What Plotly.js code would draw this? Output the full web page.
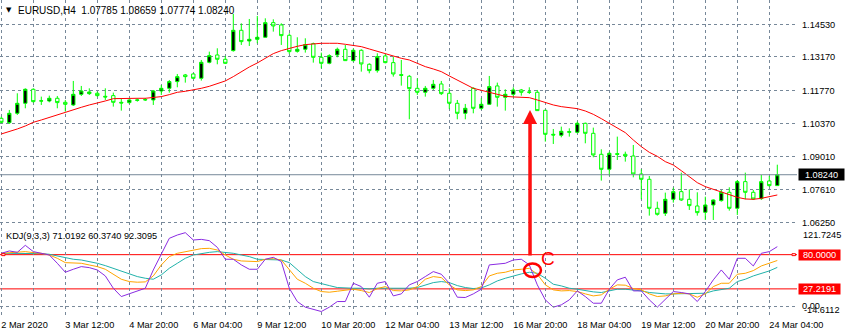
<!DOCTYPE html>
<html><head><meta charset="utf-8">
<script src="https://cdn.plot.ly/plotly-3.0.1.min.js"></script>
<style>html,body{margin:0;padding:0;background:#fff;}#chart{width:845px;height:332px;}</style>
</head><body><div id="chart"></div>
<script>
// EURUSD H4 candles (bar 0 = 2 Mar 2020 04:00)
const open = [
1.10599,1.10418,1.10808,1.11227,1.11812,1.11320,1.11324,1.11436,1.11268,1.11157,
1.11603,1.11631,1.11645,1.11519,1.11547,1.11268,1.11255,1.11352,1.11366,1.11366,
1.11742,1.11854,1.12133,1.12412,1.12453,1.12272,1.12941,1.13248,1.13067,1.13429,
1.14279,1.13833,1.13903,1.13987,1.14600,1.14502,1.14070,1.13401,1.13485,1.13722,
1.13150,1.12899,1.13248,1.13485,1.13011,1.13443,1.12858,1.12593,1.13206,1.12927,
1.12425,1.12356,1.11854,1.11687,1.11854,1.12035,1.11645,1.11227,1.10808,1.11854,
1.11018,1.11185,1.11952,1.11478,1.11603,1.11784,1.11701,1.11687,1.10934,1.09930,
1.09888,1.10014,1.10014,1.10390,1.09972,1.09094,1.08467,1.09122,1.09094,1.09024,
1.08271,1.08048,1.06836,1.06626,1.07212,1.07533,1.07212,1.06933,1.06668,1.06975,
1.07156,1.07505,1.06836,1.07951,1.07505,1.07240,1.07979,1.07785];
const high = [
1.10669,1.10948,1.11645,1.11854,1.11854,1.11505,1.11547,1.11533,1.11366,1.12161,
1.11952,1.11854,1.11715,1.11854,1.11673,1.11408,1.11408,1.11436,1.11450,1.11784,
1.11993,1.12202,1.12453,1.12453,1.12481,1.13039,1.13387,1.13527,1.13206,1.14962,
1.14572,1.14753,1.14879,1.14781,1.14739,1.14572,1.14154,1.13987,1.13945,1.13763,
1.13346,1.13276,1.13555,1.13666,1.13513,1.13485,1.12899,1.13318,1.13276,1.13178,
1.13039,1.12412,1.12272,1.11952,1.12202,1.12161,1.11854,1.11366,1.11199,1.11896,
1.11436,1.12370,1.12091,1.11812,1.11896,1.11826,1.11896,1.11784,1.10948,1.10153,
1.10251,1.10181,1.10460,1.10418,1.10209,1.09303,1.09205,1.09833,1.09205,1.09484,
1.08467,1.08188,1.07114,1.07491,1.07700,1.08327,1.07630,1.07505,1.07323,1.07212,
1.07602,1.07714,1.08020,1.08327,1.07602,1.08230,1.08188,1.08659];
const low = [
1.10390,1.10362,1.10739,1.11018,1.11255,1.11157,1.11268,1.11018,1.10878,1.11115,
1.11533,1.11575,1.11505,1.11366,1.11087,1.10920,1.11199,1.11296,1.11324,1.11157,
1.11575,1.11673,1.11896,1.12091,1.12258,1.12175,1.12899,1.12858,1.12872,1.13387,
1.13666,1.13624,1.13736,1.13973,1.14223,1.13666,1.13290,1.13346,1.13346,1.12927,
1.12690,1.12858,1.13150,1.12997,1.12969,1.12551,1.12481,1.12509,1.12899,1.12342,
1.11965,1.10558,1.11575,1.11505,1.11784,1.11575,1.10990,1.10558,1.10558,1.10808,
1.10948,1.11157,1.11087,1.10920,1.11505,1.11547,1.11617,1.10906,1.09624,1.09526,
1.09805,1.09833,1.09972,1.09554,1.08968,1.07993,1.08202,1.08857,1.08787,1.08132,
1.07212,1.06529,1.06529,1.06515,1.07073,1.07142,1.06766,1.06529,1.06348,1.06348,
1.07114,1.06738,1.06557,1.07212,1.07184,1.07184,1.07742,1.07774];
const close = [
1.10432,1.10808,1.11227,1.11812,1.11296,1.11330,1.11436,1.11255,1.11185,1.11603,
1.11742,1.11701,1.11547,1.11492,1.11268,1.11241,1.11366,1.11366,1.11380,1.11742,
1.11854,1.12133,1.12342,1.12342,1.12272,1.12941,1.13220,1.13067,1.12899,1.14279,
1.13805,1.13903,1.13987,1.14600,1.14461,1.14056,1.13387,1.13485,1.13680,1.13150,
1.12899,1.13220,1.13485,1.13011,1.13443,1.12872,1.12593,1.13178,1.12927,1.12453,
1.12398,1.11840,1.11687,1.11854,1.12021,1.11631,1.11227,1.10808,1.11018,1.11018,
1.11185,1.11924,1.11478,1.11603,1.11784,1.11687,1.11687,1.10920,1.09930,1.09902,
1.10056,1.10042,1.10390,1.09972,1.09066,1.08467,1.09136,1.09094,1.09024,1.08271,
1.08048,1.06836,1.06585,1.07212,1.07533,1.07184,1.06947,1.06654,1.06975,1.07184,
1.07505,1.06836,1.07951,1.07505,1.07226,1.07951,1.07783,1.08240];
// red moving average
const ma = [
1.09944,1.10041,1.10153,1.10278,1.10432,1.10529,1.10641,1.10738,1.10836,1.10947,
1.11059,1.11157,1.11226,1.11324,1.11421,1.11436,1.11436,1.11436,1.11436,1.11463,
1.11506,1.11589,1.11686,1.11728,1.11784,1.11854,1.11937,1.12035,1.12161,1.12342,
1.12551,1.12746,1.12913,1.13108,1.13303,1.13429,1.13527,1.13610,1.13680,1.13722,
1.13736,1.13736,1.13736,1.13694,1.13652,1.13596,1.13498,1.13401,1.13290,1.13206,
1.13108,1.13039,1.12899,1.12760,1.12662,1.12551,1.12370,1.12202,1.12035,1.11854,
1.11770,1.11686,1.11603,1.11519,1.11492,1.11478,1.11463,1.11366,1.11255,1.11157,
1.11087,1.11045,1.11003,1.10906,1.10766,1.10585,1.10390,1.10195,1.10000,1.09693,
1.09414,1.09177,1.09010,1.08787,1.08647,1.08410,1.08159,1.07908,1.07742,1.07630,
1.07518,1.07421,1.07295,1.07226,1.07212,1.07253,1.07323,1.07393];
// KDJ(9,3,3)
const kdjK = [
82.1,83.1,84.2,84.7,83.1,82.1,79.5,74.4,67.7,66.7,
66.7,64.1,61.6,57.5,49.8,42.1,38.5,37.5,38.0,47.2,
64.1,77.0,82.1,84.7,87.2,89.3,89.8,87.2,79.5,72.9,
70.3,69.3,69.3,72.9,73.9,71.8,56.4,42.1,35.9,28.2,
23.1,22.1,23.6,24.6,26.7,24.6,21.6,27.7,30.8,24.6,
24.1,25.7,30.8,42.1,46.2,44.6,33.4,25.7,24.6,25.7,
30.8,47.2,51.3,52.9,56.4,57.5,59.0,49.8,33.4,25.7,
24.1,24.6,23.1,19.5,16.4,18.0,26.7,33.4,32.9,27.7,
25.7,19.5,15.4,16.4,19.5,20.5,19.5,14.4,19.5,30.8,
35.9,35.9,49.8,51.3,55.4,62.6,66.7,71.0192];
const kdjD = [
82.1,82.1,82.1,82.1,82.1,81.6,80.6,78.0,74.4,72.9,
71.8,69.3,66.7,63.1,59.0,53.9,49.8,46.2,43.6,42.1,
48.8,59.0,66.7,74.4,79.5,82.1,83.6,84.7,83.6,82.1,
79.5,77.0,72.9,72.9,72.9,71.8,67.7,56.4,46.2,38.5,
34.9,32.3,29.3,28.2,28.2,28.2,27.2,28.2,28.2,27.7,
27.7,28.2,29.3,33.4,36.9,38.5,36.9,32.3,29.3,27.7,
28.7,33.4,39.5,43.6,47.2,50.3,52.9,51.3,43.6,34.4,
31.8,28.2,26.7,24.6,22.6,21.6,24.6,26.7,26.7,25.7,
24.1,21.6,20.0,19.5,19.5,19.5,19.5,19.5,20.5,24.1,
26.7,28.2,38.5,42.1,47.2,51.3,54.9,60.3740];
const kdjJ = [
82.1,85.7,83.6,94.4,84.7,82.1,79.5,66.7,52.9,57.5,
61.6,60.0,56.4,47.2,28.2,15.4,19.5,23.1,28.2,56.4,
82.1,105.2,110.3,113.9,102.6,103.6,101.6,91.3,72.9,72.9,
64.2,57.5,57.5,72.9,75.9,69.3,28.2,7.7,-1.0,-4.1,
-7.7,-1.0,7.7,7.7,35.9,30.8,14.4,35.9,38.5,16.4,
19.5,33.4,38.5,46.2,53.9,49.8,35.9,14.4,13.9,19.5,
26.7,64.2,65.2,66.7,71.8,72.9,64.2,33.4,10.3,-1.0,
2.6,10.3,24.1,15.4,5.1,5.1,26.7,41.1,45.2,24.1,
24.1,10.3,-1.0,11.3,23.1,21.6,19.5,7.7,23.1,41.1,
56.4,42.1,74.4,74.4,62.6,82.1,84.7,92.3095];
// axes
const timeLabels = ['2 Mar 2020','3 Mar 12:00','4 Mar 20:00','6 Mar 04:00','9 Mar 12:00','10 Mar 20:00',
 '12 Mar 04:00','13 Mar 12:00','16 Mar 20:00','18 Mar 04:00','19 Mar 12:00','20 Mar 20:00','24 Mar 04:00'];
const priceTicks = [1.14530,1.13170,1.11770,1.10370,1.09010,1.07610,1.06250];
const lastPrice = 1.08240;
const kdjLevels = [80, 27.2191];
const kdjMax = 121.7245, kdjMin = -14.6112;

const idx = open.map((_, i) => i);
const gridVals = [], gridText = [];
for (let i = 0; i < timeLabels.length * 2 - 1; i++) {
  gridVals.push(i * 4);
  gridText.push(i % 2 === 0 ? timeLabels[i / 2] : '');
}
const GRID = '#778899';
const FONT = 'Liberation Sans, Arial, sans-serif';
const fs = 9.2;

const traces = [
  {type:'candlestick', x:idx, open:open, high:high, low:low, close:close, xaxis:'x', yaxis:'y',
   increasing:{line:{color:'#00ff00', width:1}, fillcolor:'#000000'},
   decreasing:{line:{color:'#00ff00', width:1}, fillcolor:'#ffffff'},
   whiskerwidth:0, hoverinfo:'skip', showlegend:false},
  {type:'scatter', mode:'lines', x:idx, y:ma, xaxis:'x', yaxis:'y', line:{color:'#ff0000', width:1}, hoverinfo:'skip'},
  {type:'scatter', mode:'lines', x:idx, y:kdjD, xaxis:'x', yaxis:'y2', line:{color:'#20b2aa', width:1}, hoverinfo:'skip'},
  {type:'scatter', mode:'lines', x:idx, y:kdjK, xaxis:'x', yaxis:'y2', line:{color:'#ffa500', width:1}, hoverinfo:'skip'},
  {type:'scatter', mode:'lines', x:idx, y:kdjJ, xaxis:'x', yaxis:'y2', line:{color:'#8a2be2', width:1}, hoverinfo:'skip'}
];

const annotations = [
  {xref:'paper', yref:'paper', x:0.0055, y:1-10/316, xanchor:'left', yanchor:'middle', showarrow:false,
   text:'\u25BC', font:{family:'DejaVu Sans', size:7, color:'#000'}},
  {xref:'paper', yref:'paper', x:16/797, y:1-11/316, xanchor:'left', yanchor:'middle', showarrow:false,
   text:'EURUSD,H4 \u00a01.07785 1.08659 1.07774 1.08240', font:{family:FONT, size:10, color:'#000'}},
  {xref:'paper', yref:'paper', x:4/797, y:1-236/316, xanchor:'left', yanchor:'middle', showarrow:false,
   text:'KDJ(9,3,3) 71.0192 60.3740 92.3095', font:{family:FONT, size:fs, color:'#000'}},
  {xref:'paper', yref:'y', x:1, y:lastPrice, xanchor:'left', yanchor:'middle', xshift:1, showarrow:false,
   text:lastPrice.toFixed(5), bgcolor:'#000', borderpad:0, width:45, height:11, align:'center',
   font:{family:FONT, size:fs, color:'#fff'}},
  {xref:'paper', yref:'paper', x:1, y:1-235/316, xanchor:'left', yanchor:'middle', xshift:4, showarrow:false,
   text:kdjMax.toFixed(4), font:{family:FONT, size:fs, color:'#000'}},
  {xref:'paper', yref:'y2', x:1, y:0, xanchor:'left', yanchor:'middle', xshift:3, yshift:1, showarrow:false,
   text:'0.00', font:{family:FONT, size:fs, color:'#000'}},
  {xref:'paper', yref:'paper', x:1, y:1-310/316, xanchor:'left', yanchor:'middle', xshift:5, showarrow:false,
   text:kdjMin.toFixed(4), font:{family:FONT, size:fs, color:'#000'}},
  {xref:'x', yref:'paper', x:66.09, y:1-110/316, ax:0, ay:147, showarrow:true, text:'',
   arrowcolor:'#ff1010', arrowwidth:3.5, arrowhead:2, arrowsize:0.8},
  {xref:'paper', yref:'paper', x:548/797, y:1-258/316, xanchor:'center', yanchor:'middle', showarrow:false,
   text:'C', font:{family:FONT, size:19, color:'#ff0000'}}
];
kdjLevels.forEach(v => annotations.push({xref:'paper', yref:'y2', x:1, y:v, xanchor:'left', yanchor:'middle',
  xshift:1, showarrow:false, text:v.toFixed(4), bgcolor:'#ff0000', borderpad:0, width:41, height:10, align:'center',
  font:{family:FONT, size:fs, color:'#fff'}}));

const shapes = [
  {type:'line', xref:'paper', yref:'y', x0:0, x1:1, y0:lastPrice, y1:lastPrice, line:{color:GRID, width:1}},
  {type:'line', xref:'paper', yref:'y2', x0:0, x1:1, y0:0, y1:0, line:{color:GRID, width:1, dash:'3px,3px'}},
  {type:'circle', xref:'x', yref:'y2', x0:65.34, x1:67.46, y0:45.6, y1:66.4, line:{color:'#ff0000', width:2.5}},
  {type:'rect', xref:'paper', yref:'y2', x0:1.7/797, x1:5/797, y0:78.5, y1:81.5, line:{color:'#ff0000', width:1}, fillcolor:'#fff'},
  {type:'rect', xref:'paper', yref:'y2', x0:792/797, x1:795.5/797, y0:78.5, y1:81.5, line:{color:'#ff0000', width:1}, fillcolor:'#fff'}
];
kdjLevels.forEach(v => shapes.push({type:'line', xref:'paper', yref:'y2', x0:0, x1:1, y0:v, y1:v,
  line:{color:'#ff0000', width:1}, layer:'below'}));

const layout = {
  width:845, height:332, margin:{l:0, r:48, t:0, b:16},
  paper_bgcolor:'#fff', plot_bgcolor:'#fff', showlegend:false, boxgap:0.4,
  font:{family:FONT, size:fs, color:'#000'},
  xaxis:{anchor:'y2', range:[-0.1625, 99.4625], tickmode:'array', tickvals:gridVals, ticktext:gridText,
    ticklabelposition:'outside right', ticks:'', ticklabelstandoff:2, showgrid:true, gridcolor:GRID, griddash:'3px,3px', gridwidth:1,
    zeroline:false, showline:false, rangeslider:{visible:false}, fixedrange:true,
    tickfont:{family:FONT, size:fs, color:'#000'}},
  yaxis:{domain:[0.2816, 1], range:[1.060534, 1.155462], side:'right', anchor:'x', tickmode:'array',
    tickvals:priceTicks, ticktext:priceTicks.map(v => v.toFixed(5)), ticks:'', showgrid:true, gridcolor:GRID,
    griddash:'3px,3px', gridwidth:1, zeroline:false, showline:false, fixedrange:true, ticklabelstandoff:4,
    tickfont:{family:FONT, size:fs, color:'#000'}},
  yaxis2:{domain:[0, 0.2797], range:[kdjMin, kdjMax], side:'right', anchor:'x', showticklabels:false,
    showgrid:false, zeroline:false, showline:false, ticks:'', fixedrange:true},
  shapes:shapes, annotations:annotations
};
Plotly.newPlot('chart', traces, layout, {staticPlot:true, displayModeBar:false});
</script>
</body></html>
